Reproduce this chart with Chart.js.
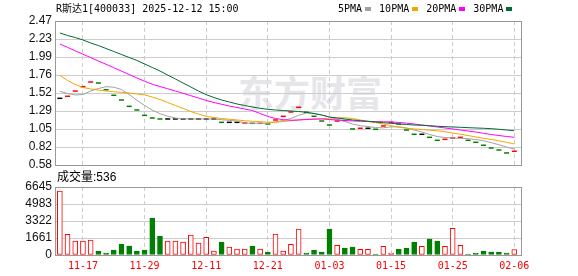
<!DOCTYPE html>
<html>
<head>
<meta charset="utf-8">
<script src="https://cdn.jsdelivr.net/npm/chart.js@4.4.1/dist/chart.umd.min.js"></script>
<style>
  body { margin: 0; background: #fff; }
  #wrap { position: relative; width: 578px; height: 276px; overflow: hidden; }
  canvas { position: absolute; left: 0; }
  #main { top: 0; }
  #vol { top: 170px; }
  .txt { position: absolute; white-space: nowrap; font-family: "DejaVu Sans Mono", "Noto Sans CJK SC", monospace; font-size: 10px; line-height: 12px; color: #000; }
  #title { left: 56px; top: 3px; }
  #legend { left: 338px; top: 3px; }
  #legend i { display: inline-block; width: 6px; height: 4px; margin: 0 8px 1px 3px; vertical-align: middle; }
  #volLabel { left: 57px; top: 170px; font-family: "Liberation Sans", "Noto Sans CJK SC", sans-serif; font-size: 12px; line-height: 14px; }
  #mark { left: 238px; top: 71px; font-family: "Noto Sans CJK SC", sans-serif; font-weight: 700; font-size: 36px; line-height: 40px; color: #e6e6ea; }
</style>
</head>
<body>
<div id="wrap">
  <div id="mark" class="txt">东方财富</div>
  <canvas id="main" width="578" height="180"></canvas>
  <canvas id="vol" width="578" height="106"></canvas>
  <div id="title" class="txt">R斯达1[400033] 2025-12-12 15:00</div>
  <div id="legend" class="txt"></div>
  <div id="volLabel" class="txt"></div>
</div>
<script>
// x ticks (bar index) and their date labels
const tickIdx = [3, 11, 19, 27, 35, 43, 51, 59];
const dateLabels = ['11-17', '11-29', '12-11', '12-21', '01-03', '01-15', '01-25', '02-06'];

// price axis
const priceTicks = [0.58, 0.81625, 1.0525, 1.28875, 1.525, 1.76125, 1.9975, 2.23375, 2.47];
const priceTickLabels = ['0.58', '0.82', '1.05', '1.29', '1.52', '1.76', '1.99', '2.23', '2.47'];

// volume axis
const volTicks = [0, 1661.25, 3322.5, 4983.75, 6645];
const volTickLabels = ['0', '1661', '3322', '4983', '6645'];

// daily close (open = close, drawn as a dash)
const closes = [
  1.455, 1.482, 1.551, 1.608, 1.669, 1.656, 1.568, 1.495, 1.433, 1.350,
  1.302, 1.232, 1.197, 1.184, 1.184, 1.184, 1.184, 1.184, 1.184, 1.184,
  1.184, 1.140, 1.140, 1.140, 1.132, 1.127, 1.127, 1.118, 1.171, 1.219,
  1.276, 1.337, 1.272, 1.219, 1.157, 1.105, 1.157, 1.164, 1.053, 1.062,
  1.062, 1.049, 1.092, 1.140, 1.118, 1.039, 0.983, 0.983, 0.943, 0.904,
  0.917, 0.934, 0.943, 0.904, 0.878, 0.839, 0.803, 0.777, 0.738, 0.760
];

// 1 up, -1 down, 0 flat
const dirs = [
  0, 1, 1, 1, 1, -1, -1, -1, -1, -1,
  -1, -1, -1, -1, 0, 0, 0, 0, 0, 0,
  0, -1, 0, 0, 1, -1, 1, -1, 1, 1,
  1, 1, -1, -1, -1, -1, 1, -1, -1, 1,
  0, -1, 1, 1, -1, -1, -1, 0, -1, -1,
  1, 1, 1, -1, -1, -1, -1, -1, -1, 1
];

const volumes = [
  6253, 2022, 1368, 1368, 1466, 391, 195, 489, 1075, 879,
  391, 489, 3615, 1856, 1368, 1368, 1270, 1954, 1172, 1729,
  391, 1270, 782, 586, 586, 879, 586, 293, 2052, 391,
  1045, 2540, 195, 489, 293, 2540, 948, 684, 782, 557,
  557, 98, 850, 195, 586, 684, 1270, 850, 1563, 1368,
  850, 2609, 948, 98, 195, 391, 293, 293, 195, 536
];

const ma5 = [
  1.547, 1.518, 1.499, 1.505, 1.551, 1.584, 1.608, 1.601, 1.571, 1.505,
  1.429, 1.361, 1.300, 1.253, 1.220, 1.196, 1.187, 1.184, 1.184, 1.184,
  1.184, 1.175, 1.166, 1.157, 1.132, 1.127, 1.127, 1.127, 1.148, 1.164,
  1.190, 1.232, 1.262, 1.256, 1.236, 1.210, 1.180, 1.151, 1.118, 1.095,
  1.085, 1.071, 1.068, 1.081, 1.081, 1.066, 1.039, 1.013, 0.980, 0.954,
  0.941, 0.934, 0.930, 0.925, 0.915, 0.898, 0.873, 0.846, 0.816, 0.790
];

const ma10 = [
  1.757, 1.689, 1.637, 1.597, 1.578, 1.564, 1.551, 1.542, 1.534, 1.525,
  1.512, 1.501, 1.472, 1.440, 1.400, 1.361, 1.322, 1.282, 1.249, 1.219,
  1.203, 1.190, 1.181, 1.171, 1.161, 1.155, 1.148, 1.142, 1.140, 1.151,
  1.161, 1.171, 1.180, 1.184, 1.188, 1.193, 1.200, 1.200, 1.190, 1.171,
  1.151, 1.135, 1.118, 1.096, 1.076, 1.063, 1.053, 1.046, 1.037, 1.029,
  1.016, 1.000, 0.984, 0.967, 0.948, 0.930, 0.915, 0.898, 0.878, 0.856
];

const ma20 = [
  2.168, 2.124, 2.079, 2.034, 1.990, 1.945, 1.902, 1.857, 1.812, 1.768,
  1.723, 1.679, 1.640, 1.610, 1.581, 1.551, 1.521, 1.490, 1.459, 1.427,
  1.400, 1.377, 1.354, 1.335, 1.315, 1.295, 1.256, 1.217, 1.190, 1.175,
  1.167, 1.171, 1.177, 1.181, 1.184, 1.177, 1.171, 1.164, 1.158, 1.155,
  1.152, 1.150, 1.148, 1.144, 1.138, 1.129, 1.118, 1.105, 1.092, 1.079,
  1.066, 1.053, 1.039, 1.026, 1.013, 0.996, 0.980, 0.967, 0.954, 0.944
];

const ma30 = [
  2.313, 2.280, 2.253, 2.221, 2.181, 2.148, 2.109, 2.070, 2.030, 1.991,
  1.952, 1.906, 1.860, 1.814, 1.761, 1.709, 1.656, 1.604, 1.551, 1.503,
  1.466, 1.433, 1.407, 1.381, 1.361, 1.341, 1.324, 1.311, 1.302, 1.295,
  1.289, 1.282, 1.272, 1.256, 1.236, 1.210, 1.197, 1.184, 1.171, 1.161,
  1.154, 1.144, 1.135, 1.127, 1.118, 1.112, 1.105, 1.101, 1.096, 1.088,
  1.083, 1.079, 1.075, 1.070, 1.066, 1.062, 1.057, 1.049, 1.039, 1.030
];

const maNames = ['5PMA', '10PMA', '20PMA', '30PMA'];
const maColors = ['#a0a0a0', '#f5a500', '#ff00ff', '#006a35'];

const upColor = '#ff0000';
const downColor = '#008000';
const flatColor = '#000000';
const gridColor = '#cccccc';
const frameColor = '#999999';

function dirColor(d) {
  return d > 0 ? upColor : d < 0 ? downColor : flatColor;
}

function points(arr) {
  return arr.map(function (v, i) {
    return { x: i, y: v };
  });
}

function maLine(arr, color) {
  return {
    data: points(arr),
    borderColor: color,
    borderWidth: 1,
    pointRadius: 0,
    tension: 0,
    fill: false,
  };
}

// legend + volume label
let legendHtml = '';
maNames.forEach(function (name, i) {
  legendHtml += name + '<i style="background:' + maColors[i] + '"></i>';
});
document.getElementById('legend').innerHTML = legendHtml;
document.getElementById('volLabel').textContent = '成交量:' + volumes[volumes.length - 1];

// frame round the plot area
const framePlugin = {
  id: 'frame',
  beforeDatasetsDraw(chart) {
    const a = chart.chartArea;
    const ctx = chart.ctx;
    ctx.save();
    ctx.strokeStyle = frameColor;
    ctx.lineWidth = 1;
    ctx.strokeRect(Math.round(a.left) - 0.5, Math.round(a.top) + 0.5, Math.round(a.right - a.left), Math.round(a.bottom - a.top));
    ctx.restore();
  },
};

function xScale(showLabels) {
  return {
    type: 'linear',
    min: -0.5,
    max: 60,
    offset: false,
    afterBuildTicks: function (s) {
      s.ticks = tickIdx.map(function (v) { return { value: v }; });
    },
    afterFit: function (s) {
      s.height = showLabels ? 21 : 0;
    },
    ticks: {
      display: showLabels,
      autoSkip: false,
      maxRotation: 0,
      padding: 5,
      color: upColor,
      font: { family: 'DejaVu Sans Mono', size: 10 },
      callback: function (v) {
        return dateLabels[tickIdx.indexOf(v)];
      },
    },
    grid: { color: gridColor, drawTicks: false, offset: false },
    border: { display: false, dash: [4, 3] },
  };
}

function yScale(min, max, ticks, labels) {
  return {
    min: min,
    max: max,
    afterBuildTicks: function (s) {
      s.ticks = ticks.map(function (v) { return { value: v }; });
    },
    afterFit: function (s) {
      s.width = 56;
    },
    ticks: {
      autoSkip: false,
      padding: 4,
      color: '#111111',
      font: { family: 'Liberation Sans', size: 12 },
      callback: function (v, i) {
        return labels[i];
      },
    },
    grid: {
      drawTicks: false,
      color: function (c) {
        return c.index === 0 || c.index === ticks.length - 1 ? 'rgba(0,0,0,0)' : gridColor;
      },
    },
    border: { display: false },
  };
}

const common = {
  responsive: false,
  animation: false,
  events: [],
  plugins: { legend: { display: false }, tooltip: { enabled: false } },
};

// price chart
new Chart(document.getElementById('main'), {
  type: 'line',
  data: {
    datasets: [
      maLine(ma30, maColors[3]),
      maLine(ma20, maColors[2]),
      maLine(ma10, maColors[1]),
      maLine(ma5, maColors[0]),
      {
        data: points(closes),
        showLine: false,
        pointStyle: 'line',
        pointRadius: 2.5,
        pointBorderWidth: 1.5,
        pointBorderColor: dirs.map(dirColor),
      },
    ],
  },
  options: Object.assign({}, common, {
    layout: { padding: { left: 0, right: 56, top: 21, bottom: 15 } },
    scales: {
      x: xScale(false),
      y: yScale(0.58, 2.47, priceTicks, priceTickLabels),
    },
  }),
  plugins: [framePlugin],
});

// volume chart
new Chart(document.getElementById('vol'), {
  type: 'bar',
  data: {
    datasets: [
      {
        data: points(volumes),
        backgroundColor: dirs.map(function (d) { return d < 0 ? downColor : '#ffffff'; }),
        borderColor: dirs.map(function (d) { return d < 0 ? downColor : upColor; }),
        borderWidth: 1,
        borderSkipped: false,
        barThickness: 5,
      },
    ],
  },
  options: Object.assign({}, common, {
    layout: { padding: { left: 0, right: 56, top: 17, bottom: 0 } },
    scales: {
      x: xScale(true),
      y: yScale(0, 6645, volTicks, volTickLabels),
    },
  }),
  plugins: [framePlugin],
});
</script>
</body>
</html>
